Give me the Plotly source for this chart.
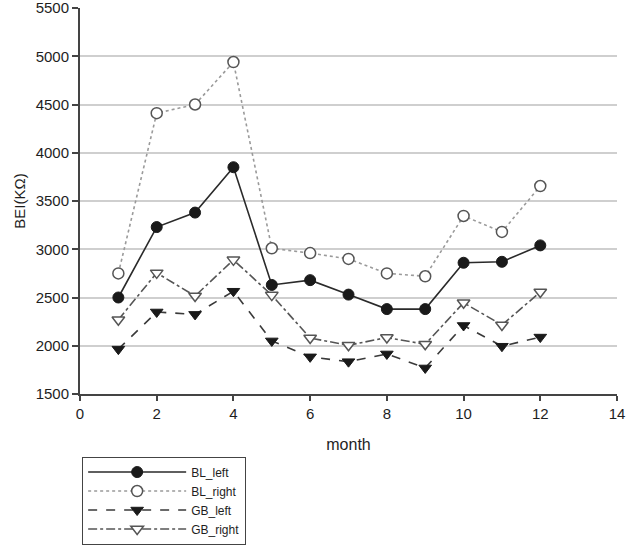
import plotly.graph_objects as go

months = [1, 2, 3, 4, 5, 6, 7, 8, 9, 10, 11, 12]
bl_left = [2500, 3230, 3380, 3850, 2630, 2680, 2530, 2380, 2380, 2860, 2870, 3040]
bl_right = [2750, 4410, 4500, 4940, 3010, 2960, 2900, 2750, 2720, 3345, 3180, 3655]
gb_left = [1965, 2350, 2325, 2565, 2050, 1885, 1835, 1915, 1770, 2210, 1995, 2090]
gb_right = [2270, 2755, 2515, 2890, 2525, 2080, 2005, 2085, 2015, 2445, 2215, 2557]

FONT = "Liberation Sans, Arial, sans-serif"
TXT = "#1e1e1e"

fig = go.Figure()
fig.add_trace(go.Scatter(
    x=months, y=bl_left, name="BL_left", mode="lines+markers",
    line=dict(color="#2a2a2a", width=1.6, dash="solid"),
    marker=dict(symbol="circle", size=11, color="#1a1a1a", line=dict(color="#1a1a1a", width=1)),
))
fig.add_trace(go.Scatter(
    x=months, y=bl_right, name="BL_right", mode="lines+markers",
    line=dict(color="#9a9a9a", width=1.6, dash="dot"),
    marker=dict(symbol="circle", size=11, color="white", line=dict(color="#555555", width=1.5)),
))
fig.add_trace(go.Scatter(
    x=months, y=gb_left, name="GB_left", mode="lines+markers",
    line=dict(color="#3a3a3a", width=1.6, dash="dash"),
    marker=dict(symbol="triangle-down", size=11, color="#1a1a1a", line=dict(color="#1a1a1a", width=1)),
))
fig.add_trace(go.Scatter(
    x=months, y=gb_right, name="GB_right", mode="lines+markers",
    line=dict(color="#555555", width=1.6, dash="dashdot"),
    marker=dict(symbol="triangle-down", size=11, color="white", line=dict(color="#555555", width=1.5)),
))

fig.update_layout(
    width=626, height=554,
    margin=dict(l=80, r=9, t=8, b=160),
    paper_bgcolor="white", plot_bgcolor="white",
    font=dict(family=FONT, size=14, color=TXT),
    showlegend=True,
    legend=dict(
        x=0.004, y=-0.162, xanchor="left", yanchor="top",
        bgcolor="white", bordercolor="#444444", borderwidth=1,
        font=dict(family=FONT, size=12, color=TXT),
        itemwidth=98, tracegroupgap=0,
    ),
)
fig.update_xaxes(
    range=[0, 14], dtick=2, tick0=0, automargin=False, ticklabeloverflow="allow",
    showgrid=False, zeroline=False,
    showline=True, linecolor="#444444", linewidth=2,
    ticks="outside", ticklen=5, tickcolor="#444444", tickwidth=1.5,
    tickfont=dict(family=FONT, size=15, color=TXT),
    title=dict(text="month", font=dict(family=FONT, size=16, color=TXT), standoff=18),
)
fig.update_yaxes(
    range=[1500, 5500], dtick=500, tick0=1500, automargin=False, ticklabeloverflow="allow",
    showgrid=True, gridcolor="#cfcfcf", gridwidth=1.5, zeroline=False,
    showline=True, linecolor="#444444", linewidth=2,
    ticks="outside", ticklen=6, tickcolor="#444444", tickwidth=1.5,
    tickfont=dict(family=FONT, size=15, color=TXT),
    title=dict(text="BEI(KΩ)", font=dict(family=FONT, size=15, color=TXT), standoff=6),
)

fig.write_html(
    "out.html",
    config={"displayModeBar": False},
    post_script="document.body.style.margin='0';document.body.style.padding='0';",
)
